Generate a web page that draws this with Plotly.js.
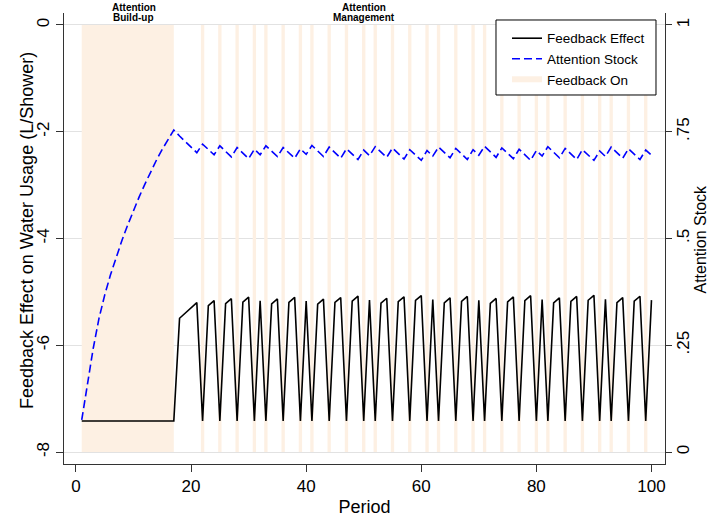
<!DOCTYPE html>
<html>
<head>
<meta charset="utf-8">
<script src="https://cdn.plot.ly/plotly-3.0.1.min.js"></script>
<style>
  html, body { margin: 0; padding: 0; background: #ffffff; }
  #chart { width: 711px; height: 518px; }
</style>
</head>
<body>
<div id="chart"></div>
<script>
// Feedback effect on water usage (L/shower), periods 1..100
const feedbackEffect = [
  -7.42, -7.42, -7.42, -7.42, -7.42, -7.42, -7.42, -7.42, -7.42, -7.42,
  -7.42, -7.42, -7.42, -7.42, -7.42, -7.42, -7.42, -5.494, -5.395, -5.298,
  -5.202, -7.42, -5.256, -5.162, -7.42, -5.221, -5.128, -7.42, -5.193, -5.099,
  -7.42, -5.167, -7.42, -5.227, -5.132, -7.42, -5.196, -5.103, -7.42, -5.171,
  -7.42, -5.230, -5.135, -7.42, -5.199, -5.106, -7.42, -5.173, -5.080, -7.42,
  -5.152, -7.42, -5.213, -5.119, -7.42, -5.185, -5.092, -7.42, -5.161, -5.069,
  -7.42, -5.142, -7.42, -5.204, -5.111, -7.42, -5.178, -5.085, -7.42, -5.156,
  -7.42, -5.216, -5.123, -7.42, -5.188, -5.095, -7.42, -5.164, -5.071, -7.42,
  -5.144, -7.42, -5.206, -5.112, -7.42, -5.179, -5.086, -7.42, -5.157, -5.064,
  -7.42, -5.138, -7.42, -5.201, -5.108, -7.42, -5.175, -5.082, -7.42, -5.154
];

// Attention stock (0..1), periods 1..100
const attentionStock = [
  0.075, 0.163, 0.243, 0.313, 0.368, 0.415, 0.457, 0.496, 0.532, 0.566,
  0.598, 0.628, 0.657, 0.684, 0.709, 0.732, 0.754, 0.740, 0.727, 0.714,
  0.701, 0.721, 0.708, 0.696, 0.717, 0.704, 0.691, 0.713, 0.700, 0.687,
  0.709, 0.696, 0.717, 0.704, 0.692, 0.713, 0.700, 0.688, 0.710, 0.697,
  0.718, 0.705, 0.692, 0.714, 0.701, 0.688, 0.710, 0.697, 0.685, 0.707,
  0.694, 0.715, 0.703, 0.690, 0.712, 0.699, 0.686, 0.708, 0.696, 0.683,
  0.706, 0.693, 0.714, 0.701, 0.689, 0.711, 0.698, 0.685, 0.708, 0.695,
  0.716, 0.703, 0.690, 0.712, 0.699, 0.687, 0.709, 0.696, 0.683, 0.706,
  0.693, 0.715, 0.702, 0.689, 0.711, 0.698, 0.685, 0.708, 0.695, 0.683,
  0.705, 0.692, 0.714, 0.701, 0.688, 0.710, 0.698, 0.685, 0.707, 0.695
];

// Continuous feedback during the build-up phase (first and last period)
const buildUpPeriods = [1, 17];

// Single periods with feedback switched on during attention management
const feedbackOnPeriods = [
  22, 25, 28, 31, 33, 36, 39, 41, 44, 47, 50, 52, 55, 58, 61, 63, 66, 69, 71,
  74, 77, 80, 82, 85, 88, 91, 93, 96, 99
];

// Axis ticks
const xTicks = [0, 20, 40, 60, 80, 100];
const leftTicks = [0, -2, -4, -6, -8];
const leftTickText = ['0', '-2', '-4', '-6', '-8'];
const rightTicks = [1, 0.75, 0.5, 0.25, 0];
const rightTickText = ['1', '.75', '.5', '.25', '0'];

// Titles
const xTitle = 'Period';
const leftTitle = 'Feedback Effect on Water Usage (L/Shower)';
const rightTitle = 'Attention Stock';

// Phase headings and the period each is centred on
const phaseTitles = [['Attention', 'Build-up'], ['Attention', 'Management']];
const phaseCenters = [10, 50];

const periods = feedbackEffect.map((_, i) => i + 1);

const FONT = 'Liberation Sans, Arial, Helvetica, sans-serif';
const BAND = '#fdf0e3';
const AXIS = '#333333';

// Left axis spans -8..0, right axis spans 0..1 over the same height
const yRange = [-8.2245, 0.2245];
const y2Range = [(yRange[0] + 8) / 8, (yRange[1] + 8) / 8];

const bandHalf = 0.29;
const bandShape = (x0, x1) => ({
  type: 'rect', xref: 'x', yref: 'y', layer: 'between',
  x0: x0, x1: x1, y0: -8, y1: 0,
  fillcolor: BAND, line: { width: 0 }
});

const shapes = [bandShape(buildUpPeriods[0], buildUpPeriods[1])]
  .concat(feedbackOnPeriods.map(p => bandShape(p - bandHalf, p + bandHalf)));

// Framed white box behind the legend entries
shapes.push({
  type: 'rect', xref: 'paper', yref: 'paper', layer: 'above',
  x0: 0.7188, x1: 0.985, y0: 0.8182, y1: 0.9845,
  fillcolor: '#ffffff', line: { color: '#000000', width: 1 }
});

const traces = [
  {
    type: 'scatter', mode: 'lines', name: 'Feedback Effect',
    x: periods, y: feedbackEffect, yaxis: 'y',
    line: { color: '#000000', width: 1.6 }
  },
  {
    type: 'scatter', mode: 'lines', name: 'Attention Stock',
    x: periods, y: attentionStock, yaxis: 'y2',
    line: { color: '#0000ff', width: 1.6, dash: '8px,4px' }
  },
  {
    // legend entry for the shaded feedback periods
    type: 'scatter', mode: 'lines', name: 'Feedback On',
    x: [null], y: [null], yaxis: 'y',
    line: { color: BAND, width: 6 }
  }
];

const annotations = [];
phaseTitles.forEach((lines, i) => {
  const ys = [1.0133, 0.9911];
  lines.forEach((t, j) => {
    annotations.push({
      xref: 'x', yref: 'paper', x: phaseCenters[i], y: ys[j],
      xanchor: 'center', yanchor: 'middle', showarrow: false,
      text: '<b>' + t + '</b>',
      font: { family: FONT, size: 10, color: '#000000' }
    });
  });
});

annotations.push({
  xref: 'paper', yref: 'paper', x: -0.0616, y: 0.5188,
  xanchor: 'center', yanchor: 'middle', showarrow: false, textangle: -90,
  text: leftTitle, font: { family: FONT, size: 18, color: '#000000' }
});
annotations.push({
  xref: 'paper', yref: 'paper', x: 1.0599, y: 0.5,
  xanchor: 'center', yanchor: 'middle', showarrow: false, textangle: -90,
  text: rightTitle, font: { family: FONT, size: 16, color: '#000000' }
});

const layout = {
  width: 711, height: 518,
  margin: { l: 64, r: 46, t: 13, b: 54, pad: 0 },
  paper_bgcolor: '#ffffff', plot_bgcolor: '#ffffff',
  font: { family: FONT, color: '#000000' },
  showlegend: true,
  legend: {
    x: 0.7371, y: 0.978, xanchor: 'left', yanchor: 'top',
    bgcolor: 'rgba(255,255,255,0)', borderwidth: 0,
    font: { family: FONT, size: 13.5, color: '#000000' },
    tracegroupgap: 0
  },
  xaxis: {
    range: [-2.08, 102.35],
    tickvals: xTicks, ticktext: xTicks.map(String),
    ticks: 'outside', ticklen: 7, tickcolor: AXIS, tickwidth: 1,
    showline: true, linecolor: AXIS, linewidth: 1,
    showgrid: false, zeroline: false,
    tickfont: { family: FONT, size: 17 },
    title: { text: xTitle, font: { family: FONT, size: 18 }, standoff: 4 }
  },
  yaxis: {
    range: yRange,
    tickvals: leftTicks, ticktext: leftTickText, tickangle: -90,
    ticks: 'outside', ticklen: 7, tickcolor: AXIS, tickwidth: 1,
    showline: true, linecolor: AXIS, linewidth: 1,
    showgrid: true, gridcolor: '#e2e2e2', gridwidth: 1, zeroline: false,
    tickfont: { family: FONT, size: 17 }
  },
  yaxis2: {
    range: y2Range, overlaying: 'y', side: 'right',
    tickvals: rightTicks, ticktext: rightTickText, tickangle: -90,
    ticks: 'outside', ticklen: 6, tickcolor: AXIS, tickwidth: 1,
    ticklabelstandoff: -3,
    showline: true, linecolor: AXIS, linewidth: 1,
    showgrid: false, zeroline: false,
    tickfont: { family: FONT, size: 17 }
  },
  shapes: shapes,
  annotations: annotations
};

Plotly.newPlot('chart', traces, layout, { displayModeBar: false, staticPlot: true });
</script>
</body>
</html>
